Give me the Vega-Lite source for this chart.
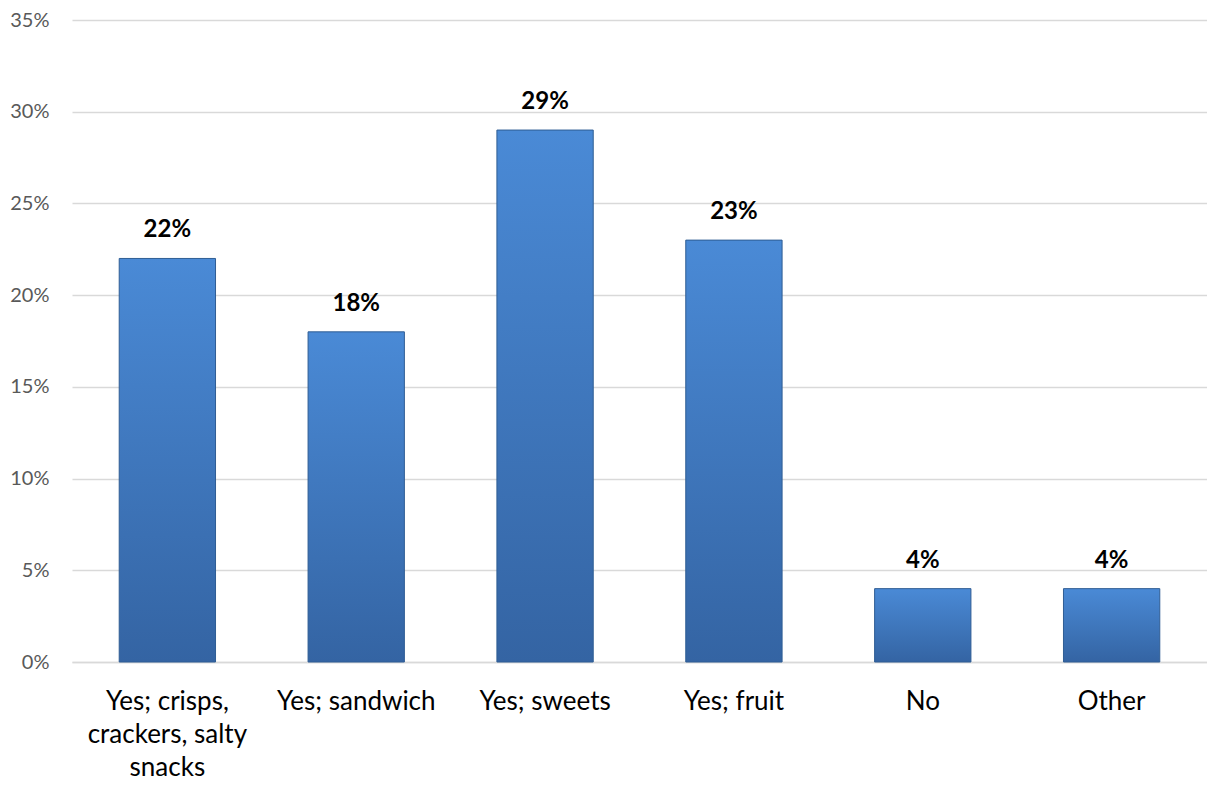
{
  "$schema": "https://vega.github.io/schema/vega-lite/v6.json",
  "autosize": "none",
  "width": 1135,
  "height": 642,
  "padding": {"left": 72, "top": 20, "right": 0, "bottom": 125},
  "background": "white",
  "config": {"view": {"stroke": null}, "font": "Lato"},
  "data": {"values": [
    {"category": "Yes; crisps, crackers, salty snacks", "value": 0.22},
    {"category": "Yes; sandwich", "value": 0.18},
    {"category": "Yes; sweets", "value": 0.29},
    {"category": "Yes; fruit", "value": 0.23},
    {"category": "No", "value": 0.04},
    {"category": "Other", "value": 0.04}
  ]},
  "encoding": {
    "x": {"field": "category", "type": "nominal", "sort": null,
      "scale": {"paddingInner": 0.49, "paddingOuter": 0.25},
      "axis": {"title": null, "labelAngle": 0, "ticks": false, "domain": true, "domainColor": "#d9d9d9", "domainWidth": 1.5,
        "labelFontSize": 26, "labelColor": "#000000", "labelPadding": 47, "labelLineHeight": 33, "labelBaseline": "alphabetic", "labelLimit": 0,
        "labelExpr": "datum.label == 'Yes; crisps, crackers, salty snacks' ? ['Yes; crisps,', 'crackers, salty', 'snacks'] : datum.label"}},
    "y": {"field": "value", "type": "quantitative",
      "scale": {"domain": [0, 0.35], "nice": false},
      "axis": {"title": null, "format": ".0%", "values": [0, 0.05, 0.1, 0.15, 0.2, 0.25, 0.3, 0.35],
        "ticks": false, "domain": false, "grid": true, "gridColor": "#d9d9d9", "gridWidth": 1.5,
        "labelFontSize": 20, "labelColor": "#595959", "labelPadding": 23}}
  },
  "layer": [
    {"mark": {"type": "bar", "stroke": "#2f5d94", "strokeWidth": 1,
      "color": {"gradient": "linear", "x1": 0, "y1": 0, "x2": 0, "y2": 1,
        "stops": [{"offset": 0, "color": "#4a8ad6"}, {"offset": 1, "color": "#3464a3"}]}}},
    {"mark": {"type": "text", "baseline": "alphabetic", "dy": -21, "fontSize": 24, "fontWeight": "bold", "color": "#000000"},
      "encoding": {"text": {"field": "value", "type": "quantitative", "format": ".0%"}}}
  ]
}
